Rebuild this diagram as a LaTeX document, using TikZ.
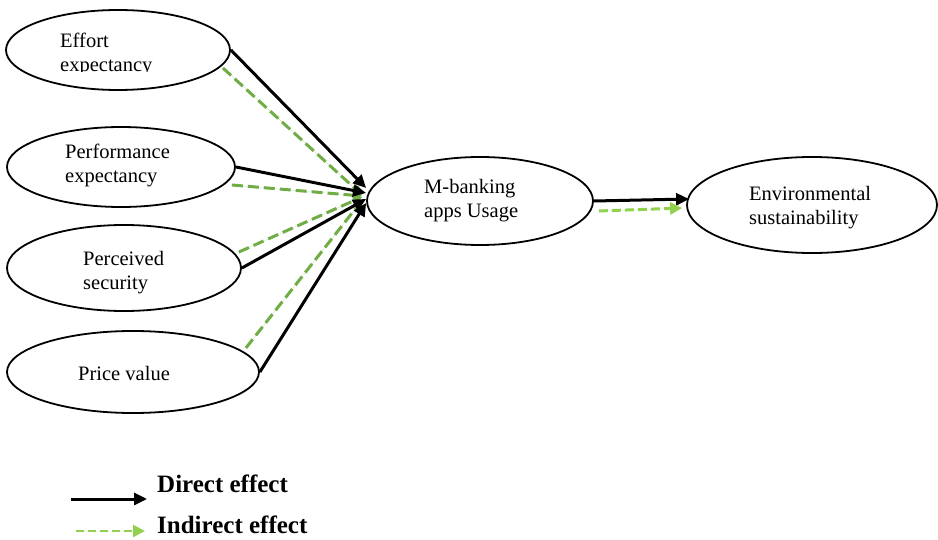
\documentclass[tikz,border=0pt]{standalone}
\usepackage{fontspec}
\setmainfont{Liberation Serif}
\usetikzlibrary{shapes.geometric,arrows.meta}
\definecolor{effgreen}{RGB}{112,173,71}
\definecolor{litegreen}{RGB}{146,208,80}
\begin{document}
\begin{tikzpicture}[x=1pt,y=-1pt,
  construct/.style={draw,ellipse,line width=1.8pt,inner sep=0pt},
  lbl/.style={anchor=base west,align=left,inner sep=0pt,font=\fontsize{20.5}{24.5}\selectfont},
  legendtxt/.style={anchor=base west,inner sep=0pt,font=\bfseries\fontsize{25}{30}\selectfont},
  direct/.style={line width=3pt,-{Triangle[length=13pt,width=12pt]}},
  indirect/.style={draw=effgreen,line width=3pt,dash pattern=on 11pt off 5pt,-{Triangle[length=9pt,width=9pt]}},
  indirectlite/.style={draw=litegreen,fill=litegreen,line width=3pt,dash pattern=on 9pt off 4pt,-{Triangle[length=12pt,width=12pt]}},
]
\useasboundingbox (0,0) rectangle (938,540);

% constructs
\node[construct,minimum width=224pt,minimum height=80pt] (eff) at (118,50) {};
\node[construct,minimum width=228pt,minimum height=80pt] (perf) at (121,167) {};
\node[construct,minimum width=234pt,minimum height=86pt] (perc) at (124,268) {};
\node[construct,minimum width=252pt,minimum height=82pt] (price) at (133,372) {};
\node[construct,minimum width=226pt,minimum height=88pt] (mb) at (480,201) {};
\node[construct,minimum width=250pt,minimum height=96pt] (env) at (812,205) {};

% labels (anchored at the baseline of their last line)
\begin{scope}
  \clip (0,0) rectangle (300,72);
  \node[lbl] (efftxt) at (60,72) {Effort\\expectancy};
\end{scope}
\node[lbl] (perftxt) at (65,183) {Performance\\expectancy};
\node[lbl] (perctxt) at (83,290) {Perceived\\security};
\node[lbl] (pricetxt) at (78,381) {Price value};
\node[lbl] (mbtxt) at (424,218) {M-banking\\apps Usage};
\node[lbl] (envtxt) at (749,225) {Environmental\\sustainability};

% indirect effects
\draw[indirect,fill=effgreen] ([xshift=-8pt,yshift=-18pt]eff.east) -- ([xshift=-4pt,yshift=6pt]mb.west);
\draw[indirect,fill=effgreen] ([xshift=-4pt,yshift=-18pt]perf.east) -- ([xshift=-4pt,yshift=5pt]mb.west);
\draw[indirect,fill=effgreen] ([xshift=-3pt,yshift=16pt]perc.east) -- ([xshift=-4pt,yshift=4pt]mb.west);
\draw[indirect,fill=effgreen] ([xshift=-14pt,yshift=24pt]price.east) -- ([xshift=-3pt,yshift=2pt]mb.west);

% direct effects
\draw[direct] (eff.east) -- ([yshift=13pt]mb.west);
\draw[direct] (perf.east) -- ([yshift=8pt]mb.west);
\draw[direct] (perc.east) -- ([yshift=2pt]mb.west);
\draw[direct] (price.east) -- ([yshift=-2pt]mb.west);

\draw[direct] (mb.east) -- ([xshift=3pt,yshift=6pt]env.west);
\draw[indirectlite] ([xshift=5pt,yshift=-10pt]mb.east) -- ([xshift=-4pt,yshift=-3pt]env.west);

% legend
\node[legendtxt] (dlab) at (157,492) {Direct effect};
\node[legendtxt] (ilab) at (157,533) {Indirect effect};
\coordinate (d0) at (71,499);
\coordinate (d1) at (147,499);
\coordinate (i0) at (76,531);
\coordinate (i1) at (145,531);
\draw[direct] (d0) -- (d1);
\draw[indirectlite,line width=2.5pt,dash pattern=on 8pt off 4pt] (i0) -- (i1);
\end{tikzpicture}
\end{document}
